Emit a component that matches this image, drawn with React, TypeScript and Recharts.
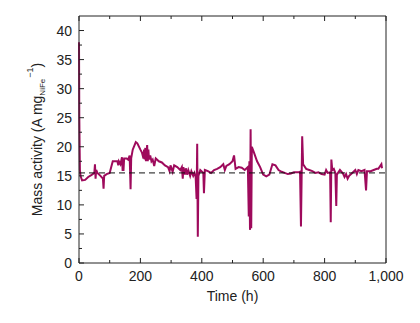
import React from 'react';
import { LineChart, Line, XAxis, YAxis, ReferenceLine } from 'recharts';

// time (h) and mass activity (A mg_NiFe^-1)
const times = [
  0, 1, 2, 3, 5, 10, 20, 30, 40, 50, 52, 54, 56, 60, 70, 78, 80, 82, 90, 100,
  105, 110, 125, 128, 130, 135, 140, 142, 145, 147, 155, 160, 165, 168, 170, 175, 185, 190, 200,
  205, 210, 212, 214, 216, 218, 220, 222, 224, 226, 228, 232, 236, 240, 245, 250, 260, 270, 280, 290, 295, 298, 300, 305,
  310, 320, 330, 335, 338, 340, 345, 348, 352, 356, 362, 366, 372, 376, 380, 383, 385, 387, 389, 395, 405, 407,
  410, 420, 430, 440, 450, 460, 470, 475, 480, 490, 500, 505, 510, 520, 530, 540,
  550, 553, 555, 557, 559, 561, 563, 570, 580, 590, 600, 610, 620, 630, 640, 650,
  660, 670, 680, 690, 700, 715, 720, 723, 727, 730, 740, 750, 760, 770, 780, 790,
  800, 805, 810, 818, 820, 822, 825, 830, 835, 838, 840, 850, 860, 865, 870, 875,
  880, 890, 900, 905, 910, 920, 930, 935, 938, 950, 960, 970, 975, 985, 987,
];
const activity = [
  38, 25, 20, 16, 15, 14.2, 14.3, 14.8, 15.1, 15.5, 17, 14.5, 16, 15.5, 15, 14.5, 12.8, 15, 15.3, 15.5,
  16.5, 17.5, 17.5, 16.8, 17.5, 17, 18.2, 16, 16, 18, 18, 17.8, 18.5, 12.7, 18, 19.5, 20.8, 20.6, 19.5,
  19, 18, 19.5, 17.8, 19.8, 17.5, 19, 20.3, 17.5, 19.5, 17.8, 18.5, 17.5, 17.8, 16.7, 18, 17.5, 17.3, 16.8, 16.5, 15.8, 16.8, 16.5, 15.7,
  16.8, 16.5, 16, 16.5, 14.5, 16.5, 15.2, 16.3, 15.2, 16, 15, 15.8, 15, 15.5, 14.8, 11, 20.5, 4.5, 15, 16, 15.5, 12,
  16, 15.8, 15.5, 16, 16.2, 16.5, 17, 16, 16.7, 17, 17.5, 18.5, 16.2, 16.5, 16.4, 16,
  16.5, 8, 17.5, 5.7, 23, 6, 20, 19, 17.5, 16.5, 15.2, 14.9, 15.2, 17, 16.8, 16,
  15.7, 15.5, 15.3, 15.4, 15.6, 15.6, 15.7, 6.3, 21.8, 17, 16.2, 16, 15.8, 15.5, 15.6, 15.3,
  15.2, 16, 15.5, 15.6, 7, 17.8, 16, 16.2, 15.5, 9.8, 15.2, 16, 15.4, 14.8, 15.3, 14.5,
  15, 15.5, 16, 15.3, 16, 15.8, 16, 12.5, 15.8, 15.8, 16, 16.2, 16.2, 17, 16.3,
];
const baseline = 15.5;

const xTicks = [0, 100, 200, 300, 400, 500, 600, 700, 800, 900, 1000];
const xLabels = [0, 200, 400, 600, 800, 1000];
const yTicks = [0, 2.5, 5, 7.5, 10, 12.5, 15, 17.5, 20, 22.5, 25, 27.5, 30, 32.5, 35, 37.5, 40];
const yLabels = [0, 5, 10, 15, 20, 25, 30, 35, 40];

const data = times.map((t, i) => ({ t, v: activity[i] }));

const FONT = '"Liberation Sans", Arial, sans-serif';
const INK = '#222';
const GAP = 6;

const fmt = (v: number) => v.toLocaleString('en-US');

// inward tick marks drawn by hand; tickSize is 0 so the axis line sits GAP from the text anchor
const makeTick = (side: 'left' | 'right' | 'top' | 'bottom', labels: number[]) => (props: any) => {
  const { x, y, payload } = props;
  const v = payload.value;
  const major = labels.includes(v);
  const len = major ? 5 : 3;
  let line;
  let text = null;
  if (side === 'left') {
    const ax = x + GAP;
    line = <line x1={ax} x2={ax + len} y1={y} y2={y} stroke={INK} />;
    if (major)
      text = (
        <text x={x - 1} y={y} dy={5} textAnchor="end" fontSize={14} fontFamily={FONT} fill={INK}>
          {fmt(v)}
        </text>
      );
  } else if (side === 'right') {
    const ax = x - GAP;
    line = <line x1={ax} x2={ax - len} y1={y} y2={y} stroke={INK} />;
  } else if (side === 'top') {
    const ay = y + GAP;
    line = <line x1={x} x2={x} y1={ay} y2={ay + len} stroke={INK} />;
  } else {
    const ay = y - GAP;
    line = <line x1={x} x2={x} y1={ay} y2={ay - len} stroke={INK} />;
    if (major)
      text = (
        <text x={x} y={ay + 18} textAnchor="middle" fontSize={14} fontFamily={FONT} fill={INK}>
          {fmt(v)}
        </text>
      );
  }
  return (
    <g>
      {line}
      {text}
    </g>
  );
};

const YLabel = (props: any) => {
  const vb = props.viewBox;
  const cx = vb.x + 42;
  const cy = vb.y + vb.height / 2;
  return (
    <text
      x={cx}
      y={cy}
      transform={`rotate(-90 ${cx} ${cy})`}
      textAnchor="middle"
      fontSize={14}
      fontFamily={FONT}
      fill={INK}
    >
      Mass activity (A mg
      <tspan fontSize={8} dy={3}>NiFe</tspan>
      <tspan fontSize={9} dy={-12} dx={1}>−1</tspan>
      <tspan dy={9}>)</tspan>
    </text>
  );
};

const App: React.FC = () => {
  return (
    <div style={{ position: 'absolute', left: 0, top: 0, background: '#fff' }}>
      <LineChart width={420} height={323} data={data} margin={{ top: 0, right: 0, left: 0, bottom: 0 }}>
        <XAxis
          xAxisId="b"
          dataKey="t"
          type="number"
          domain={[0, 1000]}
          ticks={xTicks}
          interval={0}
          tickSize={0}
          tickMargin={GAP}
          tickLine={false}
          axisLine={{ stroke: INK }}
          tick={makeTick('bottom', xLabels)}
          height={60}
          label={{ value: 'Time (h)', position: 'insideTop', offset: 28, fontSize: 14, fontFamily: FONT, fill: INK }}
        />
        <XAxis
          xAxisId="t"
          dataKey="t"
          type="number"
          orientation="top"
          domain={[0, 1000]}
          ticks={xTicks}
          interval={0}
          tickSize={0}
          tickMargin={GAP}
          tickLine={false}
          axisLine={{ stroke: INK }}
          tick={makeTick('top', xLabels)}
          height={16}
        />
        <YAxis
          yAxisId="l"
          type="number"
          domain={[0, 42.5]}
          ticks={yTicks}
          interval={0}
          tickSize={0}
          tickMargin={GAP}
          tickLine={false}
          axisLine={{ stroke: INK }}
          tick={makeTick('left', yLabels)}
          width={79}
          label={<YLabel />}
        />
        <YAxis
          yAxisId="r"
          type="number"
          orientation="right"
          domain={[0, 42.5]}
          ticks={yTicks}
          interval={0}
          tickSize={0}
          tickMargin={GAP}
          tickLine={false}
          axisLine={{ stroke: INK }}
          tick={makeTick('right', yLabels)}
          width={34}
        />
        <Line
          xAxisId="b"
          yAxisId="l"
          type="linear"
          dataKey="v"
          stroke="#9E0A5C"
          strokeWidth={2}
          dot={false}
          isAnimationActive={false}
        />
        <ReferenceLine xAxisId="b" yAxisId="l" y={baseline} stroke="#111" strokeDasharray="6 4" strokeWidth={1} />
      </LineChart>
    </div>
  );
};

export default App;
